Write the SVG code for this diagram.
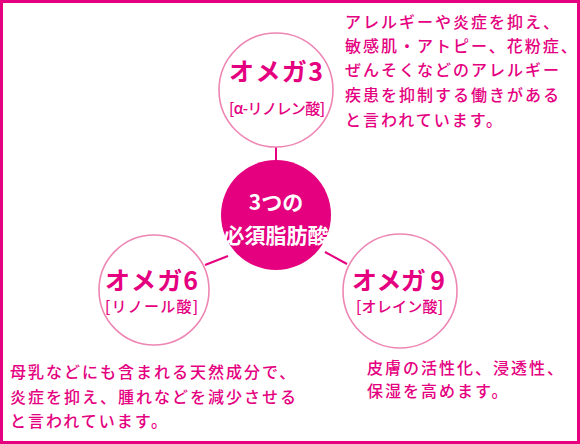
<svg xmlns="http://www.w3.org/2000/svg" width="580" height="444" viewBox="0 0 580 444">
<style>
.ring{fill:#fff;stroke:#ee86b4;stroke-width:1.6}
.conn{stroke:#e4007f;stroke-width:2;fill:none}
.t{font-family:"Noto Sans CJK JP","Noto Sans",sans-serif;fill:#e4007f}
.title{font-size:25px;font-weight:700}
.sub{font-size:15px;font-weight:500}
.body{font-size:16px;font-weight:500;letter-spacing:2px}
.center{font-family:"Noto Sans CJK JP","Noto Sans",sans-serif;fill:#fff;font-size:21px;font-weight:700;text-anchor:middle}
</style>
<rect x="1.5" y="1.5" width="577" height="441" fill="#fff" stroke="#e4007f" stroke-width="3"/>
<g id="connectors">
<line class="conn" x1="276" y1="147" x2="276" y2="162"/>
<line class="conn" x1="205" y1="265" x2="228" y2="256"/>
<line class="conn" x1="325" y1="252" x2="347" y2="264"/>
</g>
<g id="center">
<circle cx="276" cy="215" r="55" fill="#e4007f"/>
<text class="center" x="276" y="210">3つの</text>
<text class="center" x="276" y="243">必須脂肪酸</text>
</g>
<g id="omega3">
<circle class="ring" cx="276" cy="90" r="57"/>
<text class="t title" x="229" y="81" textLength="94">オメガ3</text>
<text class="t sub" x="229" y="114" textLength="96">[α-リノレン酸]</text>
</g>
<g id="omega6">
<circle class="ring" cx="154" cy="290" r="55"/>
<text class="t title" x="105" y="290" textLength="93">オメガ6</text>
<text class="t sub" x="105" y="312" textLength="93">[リノール酸]</text>
</g>
<g id="omega9">
<circle class="ring" cx="400" cy="291" r="57"/>
<text class="t title" x="352" y="290" textLength="93">オメガ 9</text>
<text class="t sub" x="356" y="312" textLength="87">[オレイン酸]</text>
</g>
<g id="note3">
<text class="t body" x="345" y="28">アレルギーや炎症を抑え、</text>
<text class="t body" x="345" y="52">敏感肌・アトピー、花粉症、</text>
<text class="t body" x="345" y="76">ぜんそくなどのアレルギー</text>
<text class="t body" x="345" y="101">疾患を抑制する働きがある</text>
<text class="t body" x="345" y="126">と言われています。</text>
</g>
<g id="note6">
<text class="t body" x="10" y="378">母乳などにも含まれる天然成分で、</text>
<text class="t body" x="10" y="403">炎症を抑え、腫れなどを減少させる</text>
<text class="t body" x="10" y="427">と言われています。</text>
</g>
<g id="note9">
<text class="t body" x="367" y="374">皮膚の活性化、浸透性、</text>
<text class="t body" x="367" y="397">保湿を高めます。</text>
</g>
</svg>
